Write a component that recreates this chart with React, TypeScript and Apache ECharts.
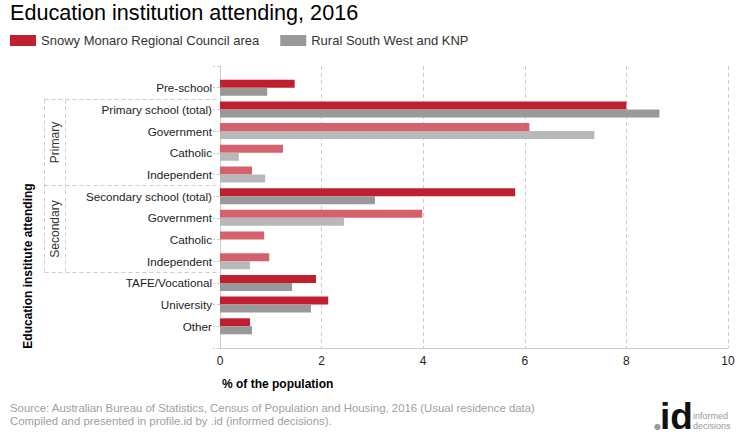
import React, { useEffect, useRef } from "react";
import * as echarts from "echarts";

const TITLE = "Education institution attending, 2016";
const SERIES_NAMES = ["Snowy Monaro Regional Council area", "Rural South West and KNP"];
const categories = [
  "Pre-school",
  "Primary school (total)",
  "Government",
  "Catholic",
  "Independent",
  "Secondary school (total)",
  "Government",
  "Catholic",
  "Independent",
  "TAFE/Vocational",
  "University",
  "Other",
];
const snowyValues = [1.47, 8.0, 6.09, 1.24, 0.63, 5.81, 3.98, 0.87, 0.97, 1.89, 2.13, 0.59];
const ruralValues = [0.93, 8.65, 7.37, 0.37, 0.89, 3.05, 2.44, 0, 0.59, 1.42, 1.79, 0.63];
const subRowIndices = [2, 3, 4, 6, 7, 8];
const groups = [
  { name: "Primary", from: 1, to: 4 },
  { name: "Secondary", from: 5, to: 8 },
];
const xTicks = [0, 2, 4, 6, 8, 10];
const X_AXIS_TITLE = "% of the population";
const Y_AXIS_TITLE = "Education institute attending";
const SOURCE_LINES = [
  "Source: Australian Bureau of Statistics, Census of Population and Housing, 2016 (Usual residence data)",
  "Compiled and presented in profile.id by .id (informed decisions).",
];

const FONT = "'Liberation Sans', Arial, sans-serif";
const NARROW = "'Liberation Sans Narrow', 'Liberation Sans', Arial, sans-serif";
const DARK_RED = "#c01f2f";
const LIGHT_RED = "#d4616b";
const DARK_GRAY = "#999999";
const LIGHT_GRAY = "#b8b8b8";
const GRID_COLOR = "#cccccc";

const GRID_LEFT = 220;
const GRID_TOP = 66;
const GRID_HEIGHT = 282;

export default function App() {
  const ref = useRef<HTMLDivElement>(null);

  useEffect(() => {
    if (!ref.current) return;
    const chart = echarts.init(ref.current, null, { renderer: "svg" });

    const paddedCats = ["", ...categories, ""];
    const step = GRID_HEIGHT / (paddedCats.length - 1);
    const mk = (vals: number[], dark: string, light: string) => [
      null,
      ...vals.map((v, i) =>
        subRowIndices.includes(i) ? { value: v, itemStyle: { color: light } } : { value: v, itemStyle: { color: dark } }
      ),
      null,
    ];

    const dash = { stroke: GRID_COLOR, lineWidth: 1, lineDash: [4, 3] };
    const bracket: any[] = [];
    const outerX = 44.5;
    const innerX = 65.5;
    const boundary = (idx: number) => Math.round(GRID_TOP + (idx + 1 - 0.5) * step) + 0.5;
    const topY = boundary(groups[0].from);
    const botY = boundary(groups[groups.length - 1].to + 1);
    bracket.push({ type: "line", shape: { x1: outerX, y1: topY, x2: outerX, y2: botY }, style: dash, silent: true });
    bracket.push({ type: "line", shape: { x1: innerX, y1: topY, x2: innerX, y2: botY }, style: dash, silent: true });
    groups.forEach((g, gi) => {
      const y1 = boundary(g.from);
      const y2 = boundary(g.to + 1);
      bracket.push({ type: "line", shape: { x1: outerX, y1, x2: GRID_LEFT, y2: y1 }, style: dash, silent: true });
      if (gi === groups.length - 1) {
        bracket.push({ type: "line", shape: { x1: outerX, y1: y2, x2: GRID_LEFT, y2 }, style: dash, silent: true });
      }
      bracket.push({
        type: "text",
        x: (outerX + innerX) / 2,
        y: (y1 + y2) / 2,
        rotation: Math.PI / 2,
        style: {
          text: g.name,
          font: `12px ${FONT}`,
          fill: "#333",
          textAlign: "center",
          textVerticalAlign: "middle",
        },
      });
    });

    chart.setOption({
      animation: false,
      textStyle: { fontFamily: FONT },
      title: {
        text: TITLE,
        left: 10,
        top: 1,
        padding: 0,
        textStyle: { fontSize: 21.6, fontWeight: "normal", color: "#000", fontFamily: FONT },
      },
      legend: {
        left: 10,
        top: 34,
        padding: 0,
        itemWidth: 26,
        itemHeight: 11,
        itemGap: 21,
        icon: "rect",
        textStyle: { fontSize: 13, color: "#333", fontFamily: FONT },
        data: SERIES_NAMES,
      },
      grid: { left: GRID_LEFT, right: 12, top: GRID_TOP, height: GRID_HEIGHT, containLabel: false },
      xAxis: {
        type: "value",
        min: xTicks[0],
        max: xTicks[xTicks.length - 1],
        interval: xTicks[1] - xTicks[0],
        axisLine: { show: true, lineStyle: { color: GRID_COLOR } },
        axisTick: { show: false },
        axisLabel: { margin: 7, fontSize: 12, color: "#222", fontFamily: FONT },
        splitLine: { show: true, lineStyle: { color: GRID_COLOR, type: [4, 3] } },
      },
      yAxis: {
        type: "category",
        inverse: true,
        boundaryGap: false,
        data: paddedCats,
        axisLine: { show: true, lineStyle: { color: GRID_COLOR } },
        axisTick: { show: true, interval: 0, length: 7, lineStyle: { color: GRID_COLOR, type: [3, 2] } },
        axisLabel: { margin: 8, interval: 0, fontSize: 11.7, color: "#222", fontFamily: FONT },
        splitLine: { show: false },
      },
      series: [
        {
          name: SERIES_NAMES[0],
          type: "bar",
          barWidth: 8,
          barGap: "0%",
          itemStyle: { color: DARK_RED },
          data: mk(snowyValues, DARK_RED, LIGHT_RED),
        },
        {
          name: SERIES_NAMES[1],
          type: "bar",
          barWidth: 8,
          barGap: "0%",
          itemStyle: { color: DARK_GRAY },
          data: mk(ruralValues, DARK_GRAY, LIGHT_GRAY),
        },
      ],
      graphic: [
        ...bracket,
        {
          type: "text",
          x: 28,
          y: 266,
          rotation: Math.PI / 2,
          style: {
            text: Y_AXIS_TITLE,
            font: `bold 12px ${FONT}`,
            fill: "#000",
            textAlign: "center",
            textVerticalAlign: "middle",
          },
        },
        {
          type: "text",
          x: 222,
          y: 384,
          style: {
            text: X_AXIS_TITLE,
            font: `bold 12px ${FONT}`,
            fill: "#000",
            textAlign: "left",
            textVerticalAlign: "middle",
          },
        },
        ...SOURCE_LINES.map((t, i) => ({
          type: "text",
          x: 10,
          y: 408 + i * 13,
          style: {
            text: t,
            font: `11.4px ${FONT}`,
            fill: "#a0a0a0",
            textAlign: "left",
            textVerticalAlign: "middle",
          },
        })),
        { type: "circle", shape: { cx: 657.5, cy: 427, r: 3.2 }, style: { fill: "#9a9a9a" } },
        {
          type: "text",
          x: 660,
          y: 416,
          style: { text: "id", font: `bold 37px ${FONT}`, fill: "#111", textAlign: "left", textVerticalAlign: "middle" },
        },
        {
          type: "text",
          x: 693,
          y: 415.5,
          style: { text: "informed", font: `9px ${NARROW}`, fill: "#999", textAlign: "left", textVerticalAlign: "middle" },
        },
        {
          type: "text",
          x: 693,
          y: 425.5,
          style: { text: "decisions", font: `9px ${NARROW}`, fill: "#999", textAlign: "left", textVerticalAlign: "middle" },
        },
      ],
    });

    return () => chart.dispose();
  }, []);

  return <div ref={ref} style={{ width: 740, height: 440, position: "absolute", left: 0, top: 0 }} />;
}
